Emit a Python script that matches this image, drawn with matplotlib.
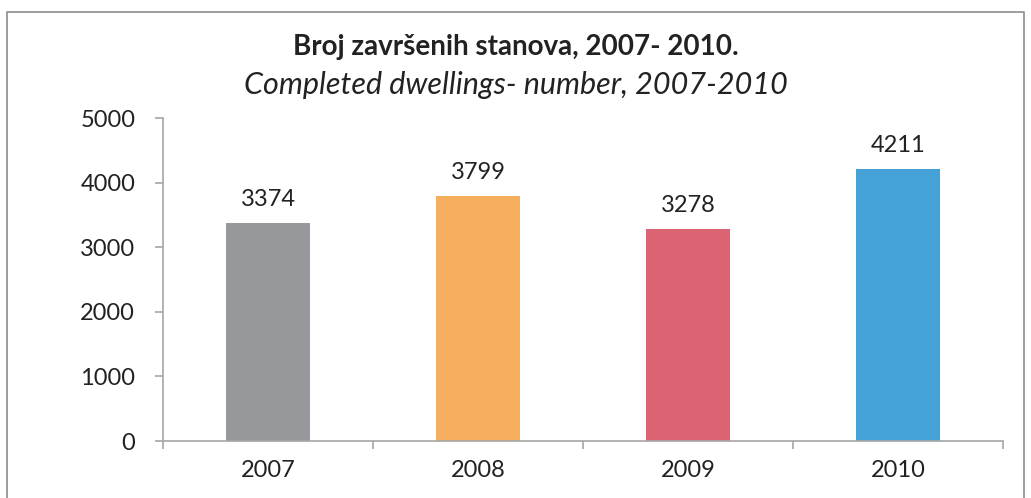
import matplotlib.pyplot as plt
import numpy as np

years = ['2007', '2008', '2009', '2010']
dwellings = [3374, 3799, 3278, 4211]
colors = ['#97989c', '#f5af5f', '#dc6472', '#45a2d6']

plt.rcParams['font.family'] = ['Lato', 'DejaVu Sans']

fig = plt.figure(figsize=(10.31, 4.98), dpi=100)
ax = fig.add_axes([163 / 1031, 1 - 441 / 498, 840 / 1031, 323 / 498])

x = np.arange(len(years))
ax.bar(x, dwellings, width=0.4, color=colors)
for xi, v in zip(x, dwellings):
    ax.text(xi, v + 200, str(v), ha='center', va='bottom', fontsize=17, color='#222222')

ax.set_xlim(-0.5, len(years) - 0.5)
ax.set_ylim(0, 5000)
ax.set_yticks(range(0, 5001, 1000))
ax.set_xticks(x)
ax.set_xticklabels(years)
ax.set_xticks(np.arange(-0.5, len(years)), minor=True)

axis_grey = '#a6a6a6'
for s in ['top', 'right']:
    ax.spines[s].set_visible(False)
for s in ['left', 'bottom']:
    ax.spines[s].set_color(axis_grey)
    ax.spines[s].set_linewidth(1.2)
ax.tick_params(axis='x', which='major', length=0, pad=14, labelsize=17, colors='#222222')
ax.tick_params(axis='x', which='minor', length=6, color=axis_grey, width=1.2)
ax.tick_params(axis='y', length=6, color=axis_grey, width=1.2, pad=14, labelsize=17, labelcolor='#222222')

fig.text(0.5, 1 - 47 / 498, 'Broj završenih stanova, 2007- 2010.', ha='center', va='center',
         fontsize=20, fontweight='bold', color='#222222')
fig.text(0.5, 1 - 85 / 498, 'Completed dwellings- number, 2007-2010', ha='center', va='center',
         fontsize=22, fontstyle='italic', color='#222222')

# outer frame (bottom edge is cut off in the original)
frame_x = [7 / 1031, 7 / 1031, 1024 / 1031, 1024 / 1031]
frame_y = [-0.05, 1 - 12 / 498, 1 - 12 / 498, -0.05]
fig.add_artist(plt.Line2D(frame_x, frame_y, color='#8c8c8c', linewidth=1.2))

fig.savefig('out.png', dpi=100)
